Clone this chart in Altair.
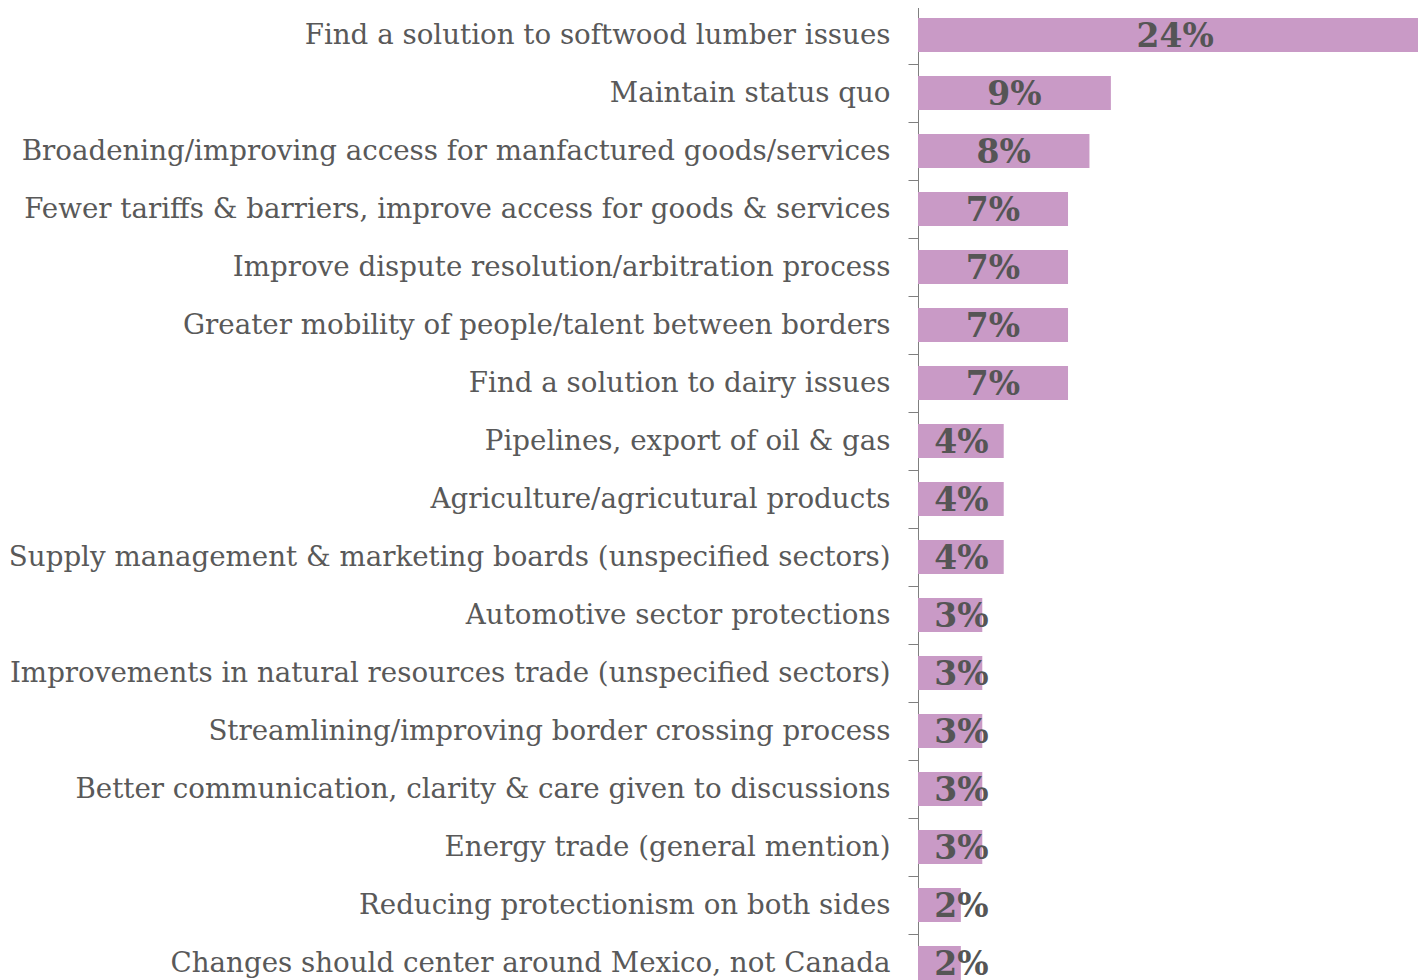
import altair as alt
import pandas as pd

categories = [
    "Find a solution to softwood lumber issues",
    "Maintain status quo",
    "Broadening/improving access for manfactured goods/services",
    "Fewer tariffs & barriers, improve access for goods & services",
    "Improve dispute resolution/arbitration process",
    "Greater mobility of people/talent between borders",
    "Find a solution to dairy issues",
    "Pipelines, export of oil & gas",
    "Agriculture/agricutural products",
    "Supply management & marketing boards (unspecified sectors)",
    "Automotive sector protections",
    "Improvements in natural resources trade (unspecified sectors)",
    "Streamlining/improving border crossing process",
    "Better communication, clarity & care given to discussions",
    "Energy trade (general mention)",
    "Reducing protectionism on both sides",
    "Changes should center around Mexico, not Canada",
]
values = [24, 9, 8, 7, 7, 7, 7, 4, 4, 4, 3, 3, 3, 3, 3, 2, 2]
value_labels = ["24%", "9%", "8%", "7%", "7%", "7%", "7%", "4%", "4%", "4%",
                "3%", "3%", "3%", "3%", "3%", "2%", "2%"]

df = pd.DataFrame({"category": categories, "value": values, "label": value_labels})

FONT = "DejaVu Serif"
BAR = "#c99ac6"
TXT = "#595959"

y_scale = alt.Scale(paddingInner=0, paddingOuter=0, range=[0, 986])
y_enc = alt.Y(
    "category:N",
    sort=categories,
    title=None,
    scale=y_scale,
    axis=alt.Axis(
        tickBand="extent",
        tickSize=10,
        tickColor="#7f7f7f",
        domainColor="#7f7f7f",
        labelPadding=18,
        labelFont=FONT,
        labelFontSize=27.7,
        labelColor=TXT,
        labelLimit=2000,
        labelBaseline="middle",
    ),
)
x_scale = alt.Scale(domain=[0, 23.33], nice=False, zero=True)

bars = alt.Chart(df).mark_bar(height=34, color=BAR).encode(
    y=y_enc,
    x=alt.X("value:Q", scale=x_scale, axis=None),
)

text = alt.Chart(df).transform_calculate(
    pos="max(datum.value / 2, 2.03)"
).mark_text(
    font=FONT, fontSize=33, fontWeight="bold", color="#555555",
    align="center", baseline="middle", dy=2,
).encode(
    y=alt.Y("category:N", sort=categories),
    x=alt.X("pos:Q", scale=x_scale, axis=None),
    text="label:N",
)

chart = (
    alt.layer(bars, text)
    .properties(width=500, height=986,
                autosize=alt.AutoSizeParams(type="none"),
                padding={"left": 910, "top": -2, "right": 0, "bottom": 0})
    .configure_view(strokeWidth=0)
)

chart.save("out.html", embed_options={"renderer": "svg", "actions": False})
